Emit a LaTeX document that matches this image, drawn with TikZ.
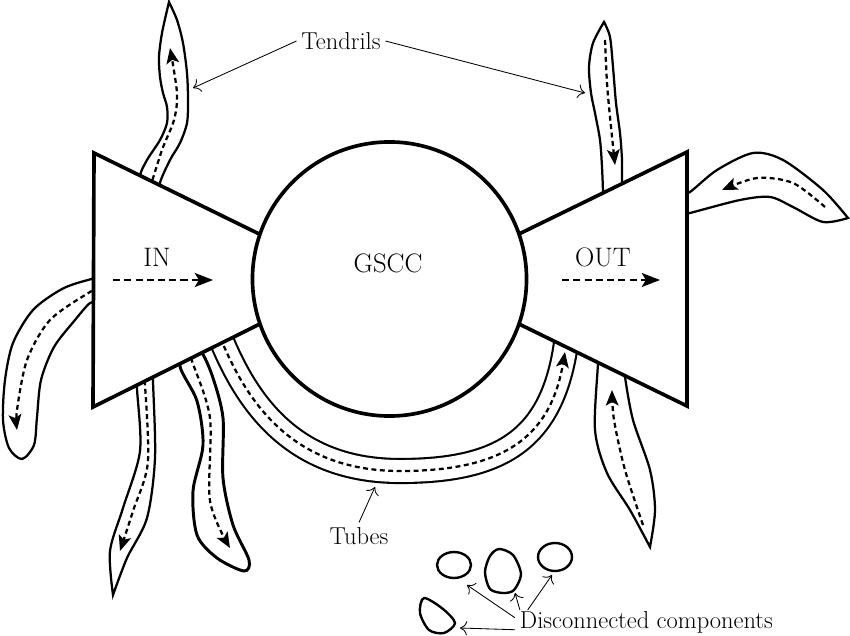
\documentclass[tikz,border=0pt]{standalone}
\usepackage{fontspec}
\usetikzlibrary{arrows.meta}

\begin{document}
\begin{tikzpicture}[x=0.025cm,y=-0.025cm,
  wall/.style={line width=2.6pt,line join=miter},
  tendril/.style={line width=1.6pt,fill=white},
  flow/.style={line width=1.6pt,dash pattern=on 3.5pt off 2.5pt,-{Stealth[length=11pt,width=9pt,inset=2.5pt]}},
  bigflow/.style={line width=1.6pt,dash pattern=on 5pt off 3pt,-{Stealth[length=13pt,width=10pt,inset=3pt]}},
  leader/.style={line width=0.6pt,-{To[length=5pt,width=10pt]}},
  blob/.style={line width=1.7pt},
  lab/.style={font=\fontsize{17.4}{20}\selectfont},
  big/.style={font=\fontsize{19}{22}\selectfont}]
\useasboundingbox (0,0) rectangle (850,636);

\draw[tendril] plot[smooth] coordinates {(144,192) (140,176) (147,160) (160,140) (167,123) (167,107) (163,93) (160,77) (159,57) (162,33) (169,2)}
  -- plot[smooth] coordinates {(169,2) (177,20) (183,43) (187,73) (188,100) (187,123) (180,143) (170,160) (160,183) (163,195)} -- cycle;
\draw[flow] plot[smooth] coordinates {(150,188) (162,150) (174,120) (177,93) (170,48)};

\draw[tendril] plot[smooth] coordinates {(603,205) (603,192) (602,167) (600,140) (595,113) (591,93) (589,67) (593,43) (604,22)}
  -- plot[smooth] coordinates {(604,22) (610,37) (613,67) (616,103) (620,133) (622,160) (622,183) (623,195)} -- cycle;
\draw[flow] plot[smooth] coordinates {(605,40) (607,83) (610,117) (615,165)};

\draw[tendril] plot[smooth] coordinates {(680,195) (690,192) (717,170) (753,153) (783,160) (823,190) (848,218)}
  -- plot[smooth] coordinates {(848,218) (823,222) (793,207) (770,197) (740,200) (690,213) (680,215)} -- cycle;
\draw[flow] plot[smooth] coordinates {(825,207) (793,183) (757,178) (722,190)};

\draw[tendril] plot[smooth cycle] coordinates {(100,279) (88,280) (62,289) (33,310) (13,343) (5,380) (3,420) (9,448)
  (22,459) (34,445) (37,417) (41,380) (54,347) (75,320) (90,303) (100,301)};
\draw[flow] plot[smooth] coordinates {(100,289) (90,292) (50,320) (27,360) (17,410) (17,430)};

\draw[tendril] plot[smooth] coordinates {(138,372) (137,388) (140,451) (123,508) (110,551) (113,595)}
  -- plot[smooth] coordinates {(113,595) (127,558) (147,518) (155,458) (153,381) (153,368)} -- cycle;
\draw[flow] plot[smooth] coordinates {(144,372) (148,461) (133,511) (120,551)};

\draw[tendril,line width=2.1pt] plot[smooth cycle] coordinates {(190,345) (180,366) (197,401) (203,445) (193,491) (197,535)
  (217,558) (244,571) (249,560) (233,525) (223,478) (223,418) (213,378) (202,353)};
\draw[flow] plot[smooth] coordinates {(188,350) (192,361) (210,418) (210,501) (230,548)};

\draw[tendril] plot[smooth] coordinates {(598,350) (598,363) (595,430) (607,473) (630,510) (650,547)}
  -- plot[smooth] coordinates {(650,547) (655,510) (650,470) (633,420) (625,377) (624,362)} -- cycle;
\draw[flow] plot[smooth] coordinates {(643,525) (625,470) (614,420) (612,390)};

\draw[line width=1.5pt,double,double distance=15.6pt] (221,338) -- (223,344) .. controls (252,412) and (300,471) .. (400,471)
  .. controls (500,471) and (550,440) .. (565,350) -- (567,336);
\draw[flow] (221,338) -- (223,344) .. controls (252,412) and (300,471) .. (400,471)
  .. controls (500,471) and (550,440) .. (565,352);

\draw[wall,fill=white] (300,254) -- (94,153) -- (93,407) -- (300,304) -- cycle;
\draw[wall,fill=white] (478,254) -- (687,152) -- (687,406) -- (478,304) -- cycle;
\node[wall,draw,fill=white,circle,minimum size=6.85cm,inner sep=0pt] (gscc) at (389.5,279) {};

\node[big] (gsccl) at (388,263) {GSCC};
\node[big] (in) at (157,257) {IN};
\node[big] (out) at (603,257) {OUT};
\draw[bigflow] (113,280) -- (213,280);
\draw[bigflow] (562,280) -- (660,280);

\draw[blob] (454,565) ellipse [x radius=17, y radius=13];
\draw[blob] plot[smooth cycle] coordinates {(499,549) (513,555) (521,574) (514,590) (503,593) (490,589) (485,572) (490,556)};
\draw[blob] (555,557) ellipse [x radius=17, y radius=14];
\draw[blob] plot[smooth cycle] coordinates {(424,598) (443,609) (455,623) (444,633) (429,630) (420,613)};
\coordinate (b1) at (467,585);
\coordinate (b2) at (515,593);
\coordinate (b3) at (552,575);
\coordinate (b4) at (460,628);

\node[lab] (tendrils) at (341,41) {Tendrils};
\draw[leader] (tendrils.west) -- (193,88);
\draw[leader] (tendrils.east) -- (585,93);
\node[lab] (tubes) at (359,536) {Tubes};
\draw[leader] (tubes.north) -- (375,487);
\node[lab,anchor=west] (disc) at (515,622) {Disconnected components};
\draw[leader] ([yshift=-5.5pt]disc.west) -- (b4);
\draw[leader] ([yshift=3pt]disc.west) -- (b1);
\draw[leader] ([xshift=3.5pt,yshift=8.5pt]disc.west) -- (b2);
\draw[leader] ([xshift=9pt,yshift=8.5pt]disc.west) -- (b3);
\end{tikzpicture}
\end{document}
